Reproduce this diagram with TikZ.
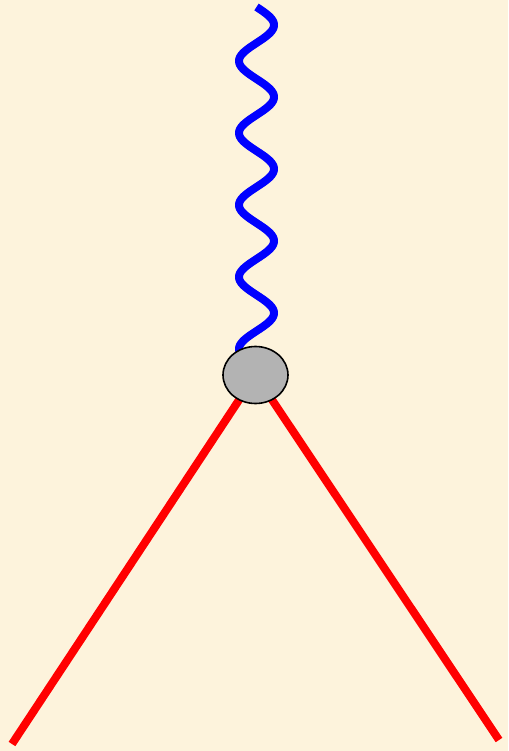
\documentclass[tikz,border=0pt]{standalone}
\usetikzlibrary{shapes.geometric}
\definecolor{bgcream}{HTML}{FDF3DC}
\definecolor{vgrey}{HTML}{B3B3B3}
\tikzset{
  fermion/.style={draw=red, line width=8pt},
  photon/.style={draw=blue, line width=8pt, line join=round},
  vertexblob/.style={ellipse, draw=black, line width=1.6pt, fill=vgrey,
    minimum width=65pt, minimum height=57pt, inner sep=0pt}
}
\begin{document}
\begin{tikzpicture}[x=1pt,y=-1pt]
\fill[bgcream] (0,0) rectangle (508,751);
\useasboundingbox (0,0) rectangle (508,751);
\coordinate (vc) at (255.5,375);
\coordinate (lend) at (12,744);
\coordinate (rend) at (499,740);
\coordinate (wtop) at (256.5,7);
\draw[fermion] (vc) -- (lend);
\draw[fermion] (vc) -- (rend);
\draw[photon] plot[domain=7:353,samples=260] ({256.5+17.5*sin(5*(\x-7))},\x);
\node[vertexblob] (v) at (vc) {};
\end{tikzpicture}
\end{document}
